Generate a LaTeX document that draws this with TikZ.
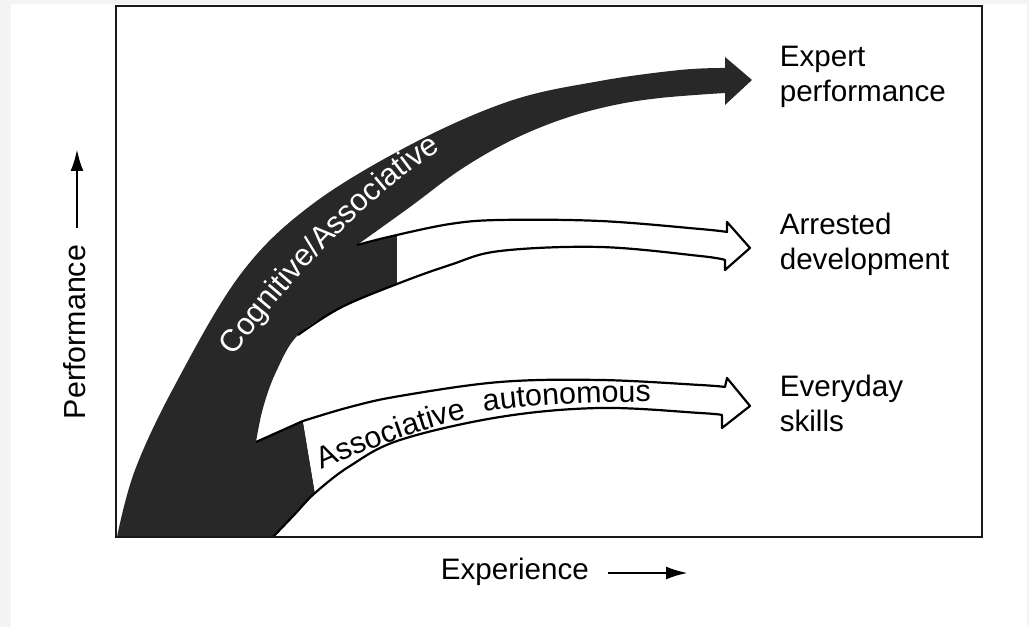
\documentclass[tikz,border=0pt]{standalone}
\usepackage{fontspec}
\setmainfont{Liberation Sans}
\usetikzlibrary{arrows.meta,decorations.text}
\definecolor{bandcol}{RGB}{40,40,40}
\definecolor{margincol}{RGB}{244,244,244}
\newcommand\myarcfont{\fontsize{7.75}{8}\selectfont}
\newcommand\myarcfontb{\fontsize{7.6}{8}\selectfont}
\begin{document}
\begin{tikzpicture}[x=0.25pt,y=-0.25pt,
  lbl/.style={font=\fontsize{7.4}{8.75}\selectfont, inner sep=0pt},
  frameline/.style={draw=black!90, line width=0.6pt},
  darkband/.style={fill=bandcol},
  whitefill/.style={fill=white},
  outline/.style={draw=black, line width=0.55pt, line join=round},
  axisarrow/.style={line width=0.7pt, -{Latex[length=5.5pt,width=3.25pt]}}
]
\useasboundingbox (0,0) rectangle (1029,627);
\fill[margincol] (0,0) rectangle (1029,627);
\fill[white] (11,4) rectangle (1027,627);

% dark band with branches
\fill[darkband] (117,537)
  -- plot[smooth, tension=0.6] coordinates {(117,537) (135,470) (175,385) (240,275) (310,206) (410,145) (510,101) (600,81) (680,70) (725,68)}
  -- (725,57) -- (752,80) -- (725,105) -- (725,93)
  -- plot[smooth, tension=0.6] coordinates {(725,93) (660,98) (610,106) (560,120) (510,141) (460,170) (410,207) (357,245)}
  -- plot[smooth, tension=0.6] coordinates {(357,245) (380,239) (397,235)}
  -- (397,284)
  -- plot[smooth, tension=0.6] coordinates {(397,284) (340,308) (298,335) (276,372) (263,408) (256,442)}
  -- (303,421) -- (315,493)
  -- plot[smooth, tension=0.6] coordinates {(315,493) (295,514) (273,537)}
  -- cycle;

% arrested development arrow (white)
\fill[whitefill] (397,235)
  -- plot[smooth, tension=0.6] coordinates {(397,235) (450,224) (500,220) (600,221) (700,229) (727,232)}
  -- (727,222) -- (750,248) -- (725,270) -- (725,260)
  -- plot[smooth, tension=0.6] coordinates {(725,260) (700,256) (600,247) (500,251) (450,265) (397,284)}
  -- cycle;
\draw[outline] plot[smooth, tension=0.6] coordinates {(397,235) (450,224) (500,220) (600,221) (700,229) (727,232)}
  -- (727,222) -- (750,248) -- (725,270) -- (725,260)
  -- plot[smooth, tension=0.6] coordinates {(725,260) (700,256) (600,247) (500,251) (450,265) (397,284) (340,308) (298,335)};
\draw[outline] plot[smooth, tension=0.6] coordinates {(357,245) (380,239) (397,235)};

% everyday skills arrow (white)
\fill[whitefill] (303,421)
  -- plot[smooth, tension=0.6] coordinates {(303,421) (350,407) (400,396) (500,382) (600,380) (700,385) (725,387)}
  -- (727,378) -- (750,406) -- (722,428) -- (722,415)
  -- plot[smooth, tension=0.6] coordinates {(722,415) (700,413) (600,408) (500,417) (400,440) (350,466) (315,493)}
  -- cycle;
\draw[outline] plot[smooth, tension=0.6] coordinates {(303,421) (350,407) (400,396) (500,382) (600,380) (700,385) (725,387)}
  -- (727,378) -- (750,406) -- (722,428) -- (722,415)
  -- plot[smooth, tension=0.6] coordinates {(722,415) (700,413) (600,408) (500,417) (400,440) (350,466) (315,493) (295,514) (273,537)};
\draw[outline] (256,442) -- (303,421);

% frame
\draw[frameline] (116,6) rectangle (982,537);

% texts along the arrows
\coordinate (cogS) at (222,372);
\coordinate (cogE) at (458,140);
\path[decorate, decoration={text along path, text align=center, text color=white,
  text={|\myarcfont|Cognitive/Associative}}]
  (cogS) .. controls (288,282) and (372,188) .. (cogE);
\coordinate (assS) at (322,470);
\coordinate (assE) at (482,415);
\path[decorate, decoration={text along path, text align=left,
  text={|\myarcfontb|Associative}}]
  (assS) .. controls (370,449) and (420,428) .. (assE);
\coordinate (autS) at (484,412);
\coordinate (autE) at (680,402);
\path[decorate, decoration={text along path, text align=left,
  text={|\myarcfontb|autonomous}}]
  (autS) .. controls (540,404) and (600,401) .. (autE);

% outcome labels
\node[lbl, anchor=base west] (exp1) at (779,67) {Expert};
\node[lbl, anchor=base west] (exp2) at (779,102) {performance};
\node[lbl, anchor=base west] (arr1) at (779,235) {Arrested};
\node[lbl, anchor=base west] (arr2) at (779,270) {development};
\node[lbl, anchor=base west] (eve1) at (779,397) {Everyday};
\node[lbl, anchor=base west] (eve2) at (779,432) {skills};

% axes
\node[lbl, font=\fontsize{7.6}{8.75}\selectfont, anchor=base, rotate=90] (perf) at (85,332) {Performance};
\coordinate (perfA) at (77,228);
\coordinate (perfB) at (77,149);
\draw[axisarrow] (perfA) -- (perfB);
\node[lbl, anchor=base west] (expr) at (440,580) {Experience};
\coordinate (exprA) at (608,573);
\coordinate (exprB) at (688,573);
\draw[axisarrow] (exprA) -- (exprB);
\end{tikzpicture}
\end{document}
